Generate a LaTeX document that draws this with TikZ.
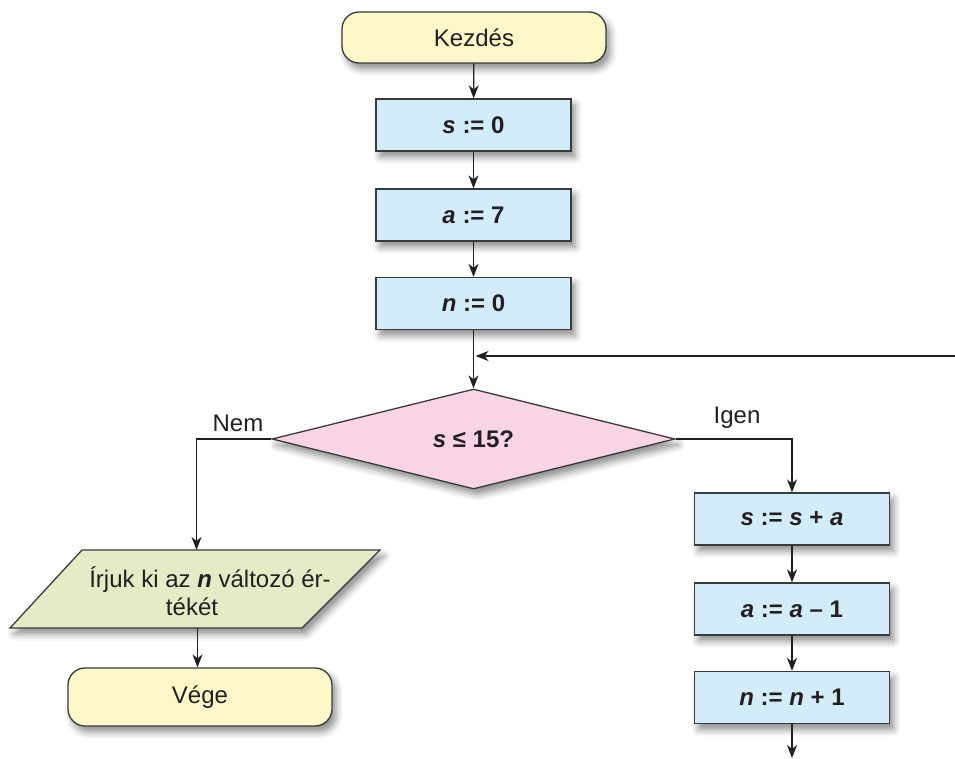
\documentclass[tikz,border=0pt]{standalone}
\usepackage{fontspec}
\setmainfont{Liberation Sans}
\usetikzlibrary{shapes.geometric,arrows.meta,shadows.blur}
\definecolor{termfill}{HTML}{FDF7CA}
\definecolor{procfill}{HTML}{D3ECF9}
\definecolor{decfill}{HTML}{F9D4E7}
\definecolor{iofill}{HTML}{E4EBC6}
\definecolor{edge}{HTML}{3A3A3A}
\definecolor{ink}{HTML}{231F20}
\begin{document}
\begin{tikzpicture}[x=1pt,y=-1pt,
  every node/.style={font=\fontsize{24}{28}\selectfont, text=ink},
  shade/.style={blur shadow={shadow xshift=4pt, shadow yshift=-6pt, shadow blur radius=7pt, shadow opacity=45}},
  term/.style={shade, draw=edge, line width=1.3pt, fill=termfill, rounded corners=17pt, minimum width=264pt, inner sep=0pt},
  proc/.style={shade, draw=edge, line width=1.3pt, fill=procfill, minimum width=195pt, minimum height=52pt, inner sep=0pt, font=\fontsize{24}{28}\selectfont\bfseries},
  dec/.style={shade, draw=edge, line width=1.3pt, fill=decfill, diamond, shape aspect=4, minimum width=403pt, minimum height=100pt, inner sep=0pt, font=\fontsize{24}{28}\selectfont\bfseries},
  iobox/.style={shade, draw=edge, line width=1.3pt, fill=iofill},
  lbl/.style={inner sep=0pt},
  arr/.style={draw=ink, line width=1.3pt, -{Stealth[length=13pt,width=10pt,inset=4pt]}},
  ln/.style={draw=ink, line width=1.3pt}
]
\useasboundingbox (0,0) rectangle (955,758);

\node[term, minimum height=51pt] (start) at (474,37.5) {Kezdés};
\node[proc] (s0) at (473.5,125) {\textit{s} := 0};
\node[proc] (a7) at (473.5,215) {\textit{a} := 7};
\node[proc] (n0) at (473.5,303.5) {\textit{n} := 0};
\node[dec] (dec) at (473.5,439) {\textit{s} ≤ 15?};

% input/output parallelogram
\path[iobox] (82,550) -- (380,550) -- (302,628) -- (10,628) -- cycle;
\coordinate (outtop) at (196.5,550);
\coordinate (outbot) at (197.5,628);
\node[align=center, inner sep=0pt] (out) at (210,591) {Írjuk ki az \textbf{\textit{n}} változó ér-\\tékét\hspace*{36pt}};

\node[term, minimum height=58pt] (end) at (200,697) {Vége};
\node[proc] (ss) at (792,519) {\textit{s} := \textit{s} + \textit{a}};
\node[proc] (aa) at (792,609) {\textit{a} := \textit{a} – 1};
\node[proc] (nn) at (792,697.5) {\textit{n} := \textit{n} + 1};

\node[lbl] (nem) at (238,423) {Nem};
\node[lbl] (igen) at (737,418) {Igen};

\coordinate (loopin) at (473.5,356);
\coordinate (loopfrom) at (955,356);
\coordinate (exit) at (792,758);

\draw[arr] (start) -- (s0);
\draw[arr] (s0) -- (a7);
\draw[arr] (a7) -- (n0);
\draw[arr] (n0) -- (dec);
\draw[arr, shorten >=2pt] (loopfrom) -- (loopin);
\draw[arr] (dec.west) -| (outtop);
\draw[arr] (dec.east) -| (ss.north);
\draw[arr] (outbot) -- (outbot |- end.north);
\draw[arr] (ss) -- (aa);
\draw[arr] (aa) -- (nn);
\draw[arr] (nn) -- (exit);
\end{tikzpicture}
\end{document}
